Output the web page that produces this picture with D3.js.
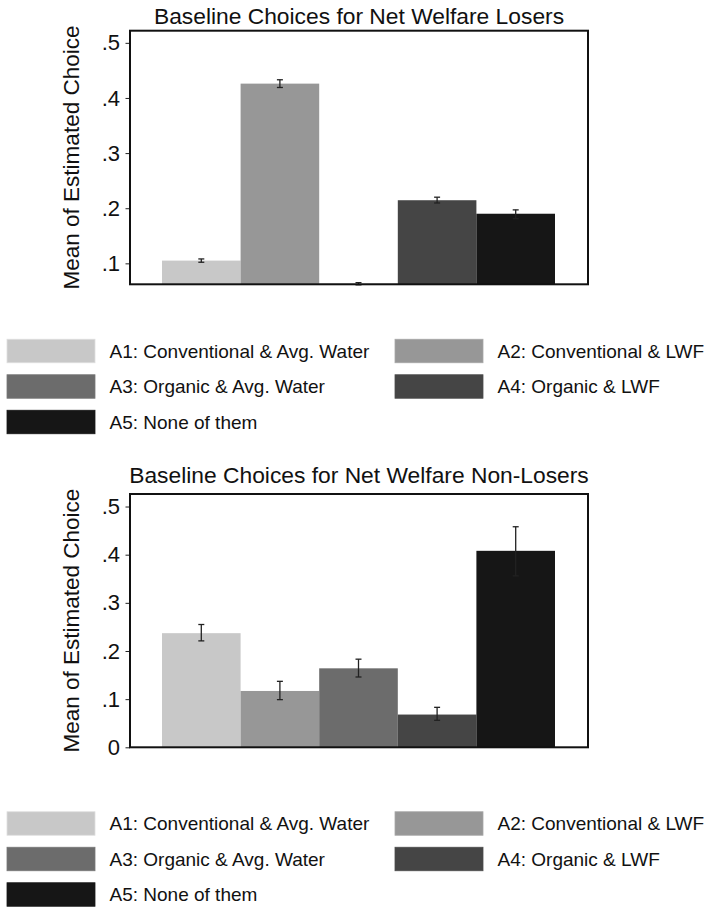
<!DOCTYPE html>
<html>
<head>
<meta charset="utf-8">
<script src="https://cdn.jsdelivr.net/npm/d3@7"></script>
<style>
  html, body { margin: 0; padding: 0; background: #fff; }
  svg { display: block; font-family: "Liberation Sans", Arial, sans-serif; }
</style>
</head>
<body>
<div id="chart"></div>
<script>
// choice alternatives and their fill greys
const categories = [
    'A1: Conventional & Avg. Water',
    'A2: Conventional & LWF',
    'A3: Organic & Avg. Water',
    'A4: Organic & LWF',
    'A5: None of them'
];
const fills = ['#c8c8c8', '#979797', '#6c6c6c', '#454545', '#161616'];

// net welfare losers
const losersMean = [0.105, 0.426, 0.063, 0.2145, 0.190];
const losersLow = [0.102, 0.419, 0.061, 0.2095, 0.181];
const losersHigh = [0.108, 0.433, 0.065, 0.220, 0.197];
const losersTicks = [0.1, 0.2, 0.3, 0.4, 0.5];
const losersDomain = [0.062, 0.522];

// net welfare non-losers
const nonLosersMean = [0.237, 0.117, 0.164, 0.068, 0.408];
const nonLosersLow = [0.221, 0.099, 0.146, 0.056, 0.356];
const nonLosersHigh = [0.255, 0.137, 0.183, 0.083, 0.458];
const nonLosersTicks = [0, 0.1, 0.2, 0.3, 0.4, 0.5];
const nonLosersDomain = [0, 0.526];

const width = 706, height = 907;
const svg = d3.select('#chart').append('svg')
    .attr('width', width)
    .attr('height', height);

const fmt = v => v === 0 ? '0' : d3.format('.1f')(v).replace(/^0/, '');

function drawPanel(opts) {
    const { title, mean, low, high, ticks, domain, top, bottom, titleY, legendY } = opts;
    const left = 130, right = 588;

    const x = d3.scaleBand()
        .domain(categories)
        .range([left + 32, right - 33])
        .padding(0);
    const y = d3.scaleLinear()
        .domain(domain)
        .range([bottom, top]);

    const g = svg.append('g');

    g.append('text')
        .attr('x', (left + right) / 2)
        .attr('y', titleY)
        .attr('text-anchor', 'middle')
        .attr('font-size', 22.8)
        .attr('fill', '#111')
        .text(title);

    // bars
    g.append('g').selectAll('rect')
        .data(categories)
        .join('rect')
        .attr('x', d => x(d))
        .attr('width', x.bandwidth())
        .attr('y', (d, i) => y(mean[i]))
        .attr('height', (d, i) => y(domain[0]) - y(mean[i]))
        .attr('fill', (d, i) => fills[i]);

    // error bars
    const eb = g.append('g')
        .attr('stroke', '#222')
        .attr('stroke-width', 1.3)
        .attr('fill', 'none');
    categories.forEach((c, i) => {
        const cx = x(c) + x.bandwidth() / 2;
        eb.append('line')
            .attr('x1', cx).attr('x2', cx)
            .attr('y1', y(low[i])).attr('y2', y(high[i]));
        [low[i], high[i]].forEach(v => {
            eb.append('line')
                .attr('x1', cx - 3).attr('x2', cx + 3)
                .attr('y1', y(v)).attr('y2', y(v));
        });
    });

    // y axis
    const axis = g.append('g')
        .attr('transform', `translate(${left},0)`)
        .call(d3.axisLeft(y).tickValues(ticks).tickFormat(fmt).tickSize(4.5).tickPadding(5.5));
    axis.select('.domain').remove();
    axis.selectAll('.tick line').attr('stroke', '#222').attr('stroke-width', 1);
    axis.selectAll('.tick text')
        .attr('font-size', 22)
        .attr('font-family', '"Liberation Sans", Arial, sans-serif')
        .attr('fill', '#111');

    // frame
    g.append('rect')
        .attr('x', left)
        .attr('y', top)
        .attr('width', right - left)
        .attr('height', bottom - top)
        .attr('fill', 'none')
        .attr('stroke', '#111')
        .attr('stroke-width', 2);

    g.append('text')
        .attr('transform', `translate(79,${(top + bottom) / 2}) rotate(-90)`)
        .attr('text-anchor', 'middle')
        .attr('font-size', 22.5)
        .attr('fill', '#111')
        .text('Mean of Estimated Choice');

    // legend, two columns
    const leg = g.append('g');
    categories.forEach((c, i) => {
        const col = i % 2, row = Math.floor(i / 2);
        const lx = col === 0 ? 7 : 395;
        const ly = legendY + row * 35.5;
        leg.append('rect')
            .attr('x', lx)
            .attr('y', ly - 11.75)
            .attr('width', 88)
            .attr('height', 23.5)
            .attr('fill', fills[i])
            .attr('stroke', d3.color(fills[i]).brighter(0.3))
            .attr('stroke-width', 0.8);
        leg.append('text')
            .attr('x', lx + 102.5)
            .attr('y', ly)
            .attr('dy', '0.35em')
            .attr('font-size', 19)
            .attr('fill', '#111')
            .text(c);
    });
}

drawPanel({
    title: 'Baseline Choices for Net Welfare Losers',
    mean: losersMean, low: losersLow, high: losersHigh,
    ticks: losersTicks, domain: losersDomain,
    top: 30.7, bottom: 284.3, titleY: 24.3, legendY: 351
});

drawPanel({
    title: 'Baseline Choices for Net Welfare Non-Losers',
    mean: nonLosersMean, low: nonLosersLow, high: nonLosersHigh,
    ticks: nonLosersTicks, domain: nonLosersDomain,
    top: 494, bottom: 747.3, titleY: 483, legendY: 823.5
});
</script>
</body>
</html>
